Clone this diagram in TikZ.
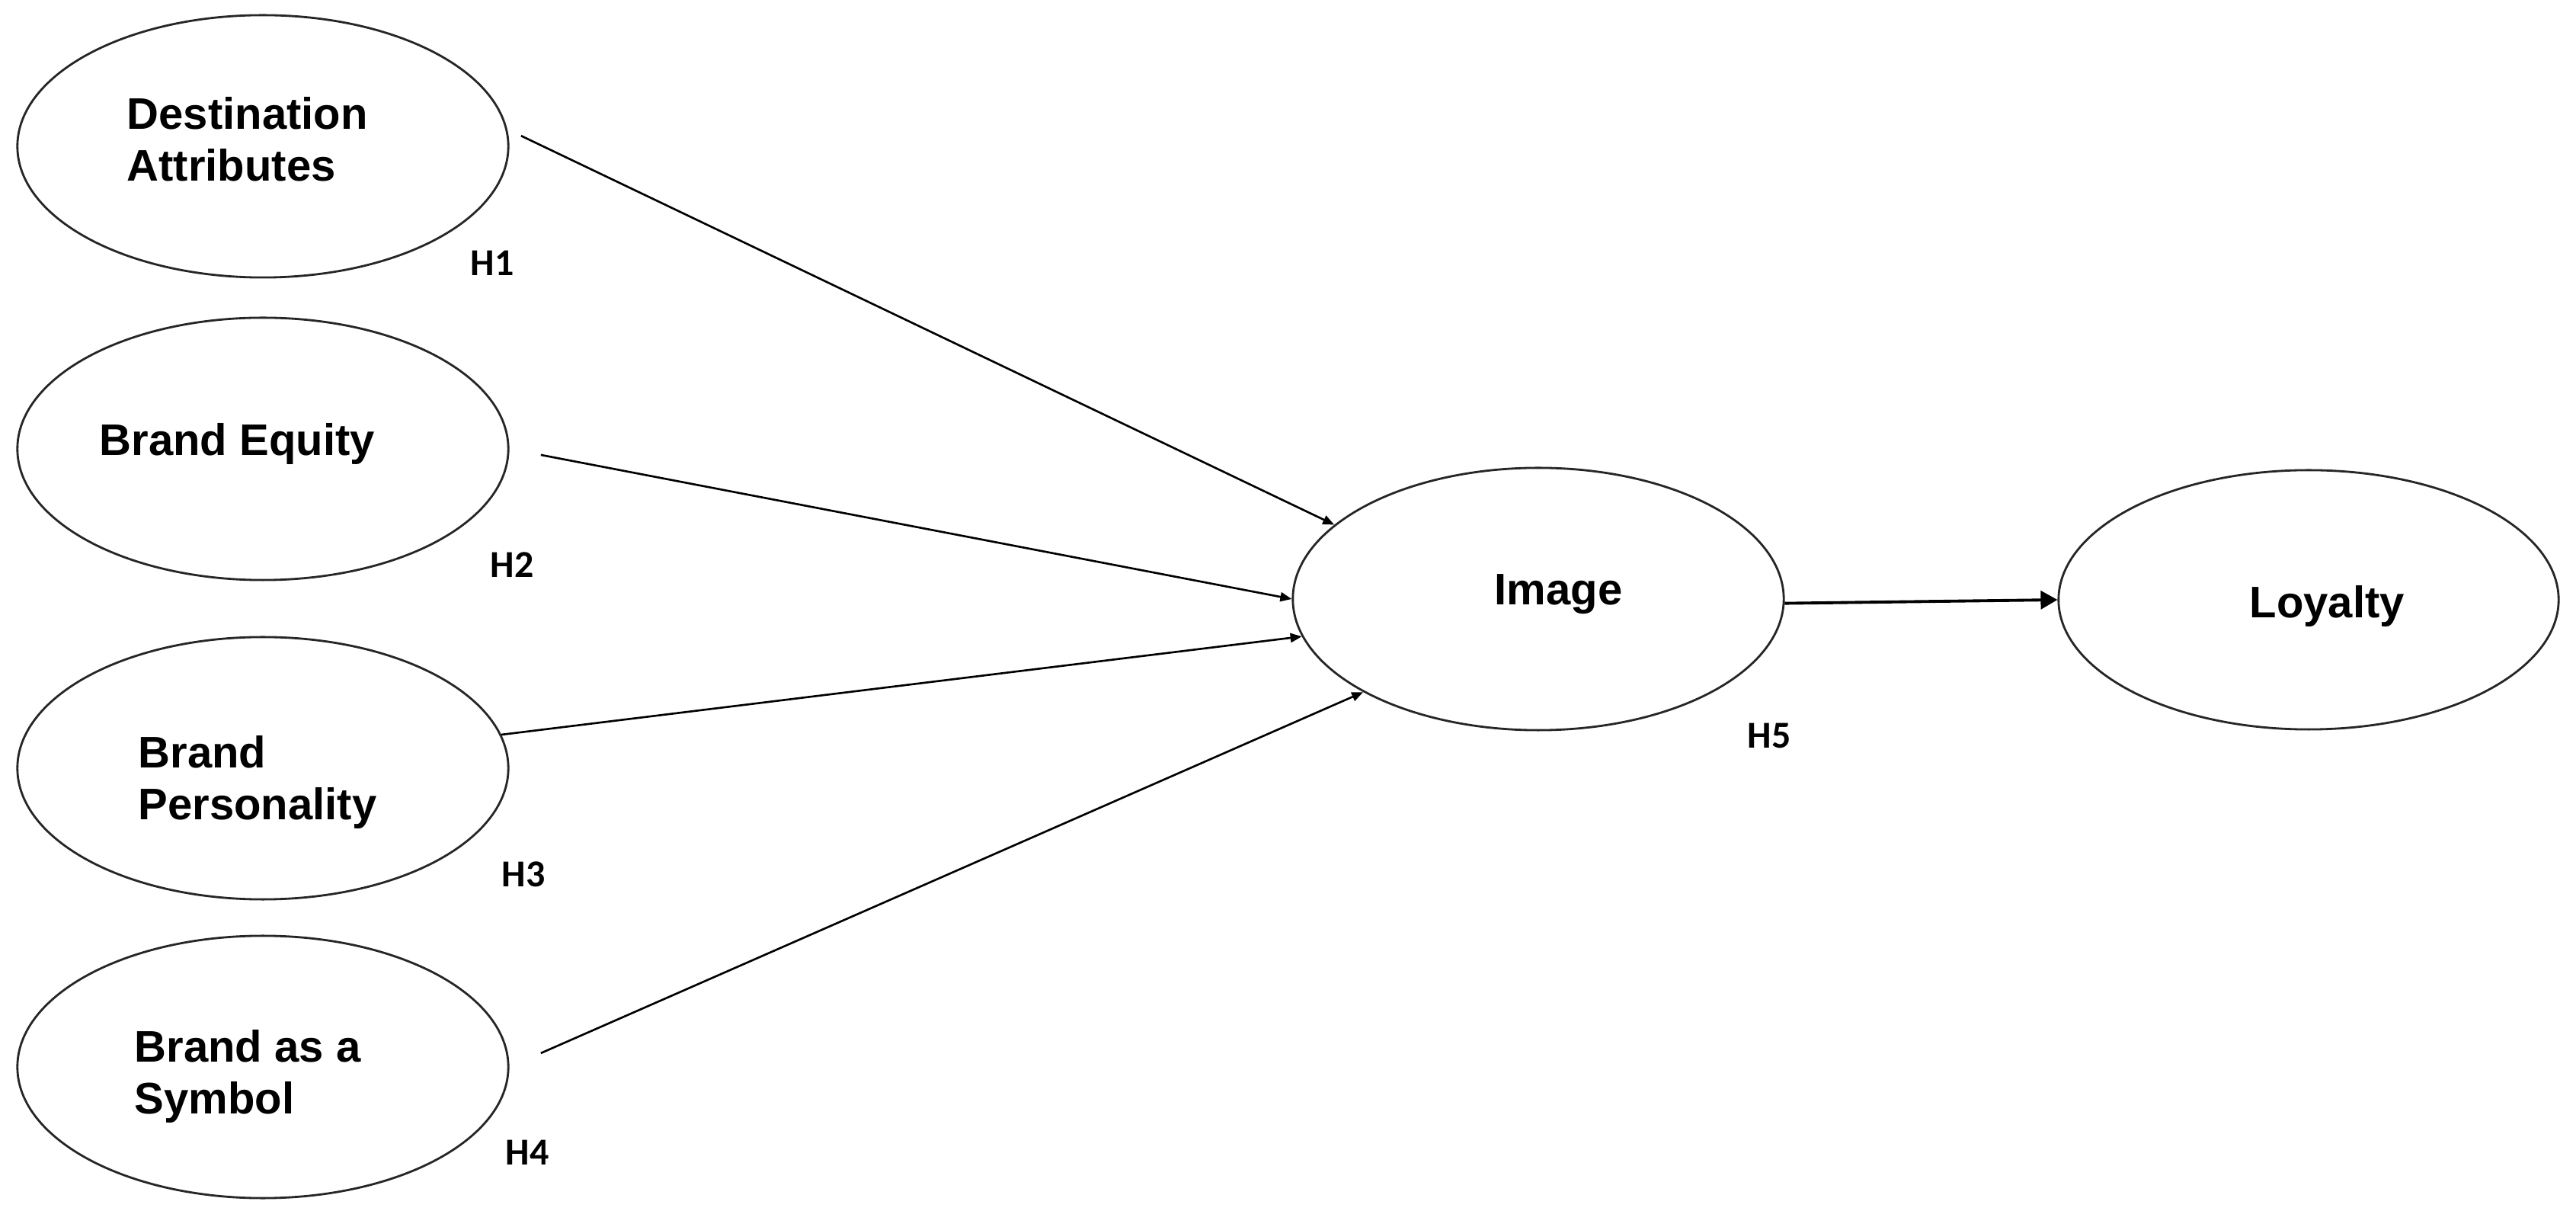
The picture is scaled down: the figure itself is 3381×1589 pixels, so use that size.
\documentclass[tikz,border=0pt]{standalone}
\usepackage{fontspec}
\setmainfont{Liberation Sans}
\newfontfamily\hypfont{Carlito}
\usetikzlibrary{shapes.geometric}
\usetikzlibrary{arrows.meta}

\begin{document}
\begin{tikzpicture}[x=0.01cm,y=-0.01cm,>={Triangle[length=0.15cm,width=0.12cm]},
    construct/.style={ellipse,draw=black!85,line width=0.8pt,minimum width=6.44cm,minimum height=3.44cm,inner sep=0pt},
    lbl/.style={anchor=north west,inner sep=0pt,align=left,font=\fontsize{16.5}{19.35}\selectfont\bfseries},
    hyp/.style={anchor=base west,inner sep=0pt,font=\hypfont\fontsize{14.2}{16}\selectfont\bfseries},
    link/.style={->,line width=0.75pt}]
    \useasboundingbox (0,0) rectangle (3381,1589);
    % constructs
    \node[construct] (da) at (345,192) {};
    \node[construct] (be) at (345,589) {};
    \node[construct] (bp) at (345,1008) {};
    \node[construct] (bs) at (345,1400) {};
    \node[construct] (img) at (2019,786) {};
    \node[construct,minimum width=6.56cm,minimum height=3.40cm] (loy) at (3030,787) {};
    \node[lbl] (da-txt) at (166,127) {Destination\\Attributes};
    \node[lbl] (be-txt) at (130,555) {Brand Equity};
    \node[lbl] (bp-txt) at (181,965) {Brand\\Personality};
    \node[lbl] (bs-txt) at (176,1351) {Brand as a\\Symbol};
    \node[lbl] (img-txt) at (1961,753) {Image};
    \node[lbl] (loy-txt) at (2952,768) {Loyalty};
    %
    \node[hyp] (h1) at (617,362) {H1};
    \node[hyp] (h2) at (643,758) {H2};
    \node[hyp] (h3) at (658,1163) {H3};
    \node[hyp] (h4) at (663,1528) {H4};
    \node[hyp] (h5) at (2293,982) {H5};
    %
    \draw[link,shorten <=0.2cm] (da.4) -- (img.160);
    \draw[link,shorten <=0.42cm] (be.east) -- (img.west);
    \draw[link] (bp.8) -- (img.189);
    \draw[link,shorten <=0.45cm] (bs.east) -- (img.208);
    \draw[link,line width=1.1pt,-{Triangle[length=0.22cm,width=0.24cm]}] (img.-1.5) -- (loy.west);
\end{tikzpicture}
\end{document}
